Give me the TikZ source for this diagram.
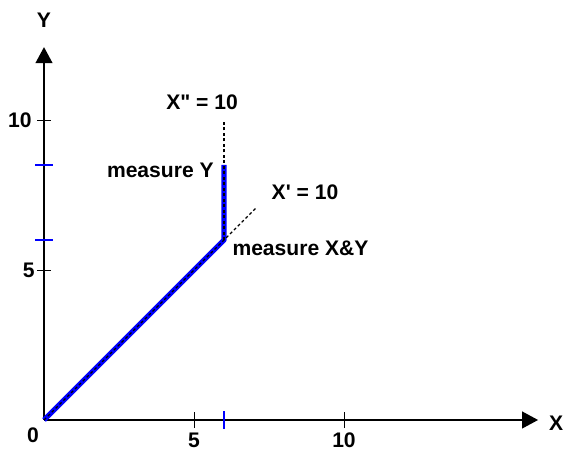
\documentclass[tikz,border=0pt]{standalone}
\usepackage{fontspec}
\setmainfont{Liberation Sans}[Ligatures=TeXOff]
\usetikzlibrary{arrows.meta, positioning}

\begin{document}
\begin{tikzpicture}[x=0.5cm, y=0.5cm, font=\bfseries,
  axis/.style={line width=0.7pt, -{Triangle[length=7.6pt, width=8pt]}},
  axistick/.style={line width=0.4pt},
  bluetick/.style={blue, line width=1.4pt},
  measure/.style={blue, line width=2.5pt, line join=bevel},
  guide/.style={dashed, dash pattern=on 1.4pt off 1.2pt, line width=0.55pt},
  lbl/.style={inner sep=0pt}]
  \useasboundingbox (-1.467,-1.067) rectangle (17.367,14);

  % Axes
  \coordinate (o) at (0,0);
  \coordinate (xend) at (16.47,0);
  \coordinate (yend) at (0,12.43);
  \draw[axis] (o) -- (xend);
  \draw[axis] (o) -- (yend);
  \node (xlab) at (17.07,-0.1) {X};
  \node (ylab) at (0,13.33) {Y};

  % Ticks and numbers
  \foreach \v in {5,10} {
    \draw[axistick] (\v,-0.27) -- (\v,0.27);
    \draw[axistick] (-0.23,\v) -- (0.23,\v);
    \node (xn\v) at (\v,-0.67) {\v};
  }
  \node (zero) at (-0.37,-0.5) {0};
  \node[lbl, anchor=east] (yn5) at (-0.3,5) {5};
  \node[lbl, anchor=east] (yn10) at (-0.4,10) {10};

  % Measured path
  \coordinate (c) at (6,6);
  \coordinate (ctop) at (6,8.5);
  \coordinate (dxend) at (7.05,7.05);
  \coordinate (dyend) at (6,10);
  \draw[bluetick] (6,-0.3) -- (6,0.3);
  \draw[bluetick] (-0.3,6) -- (0.3,6);
  \draw[bluetick] (-0.3,8.5) -- (0.3,8.5);
  \draw[measure] (o) -- (c) -- (ctop);
  \draw[guide] (o) -- (dxend);
  \draw[guide] (c) -- (dyend);

  % Labels
  \node (xpp) at (5.27,10.6) {X" = 10};
  \node (xp) at (8.7,7.6) {X' = 10};
  \node[lbl, anchor=east] (my) at (5.67,8.33) {measure Y};
  \node[lbl, anchor=west] (mxy) at (6.27,5.73) {measure X\&Y};
\end{tikzpicture}
\end{document}
